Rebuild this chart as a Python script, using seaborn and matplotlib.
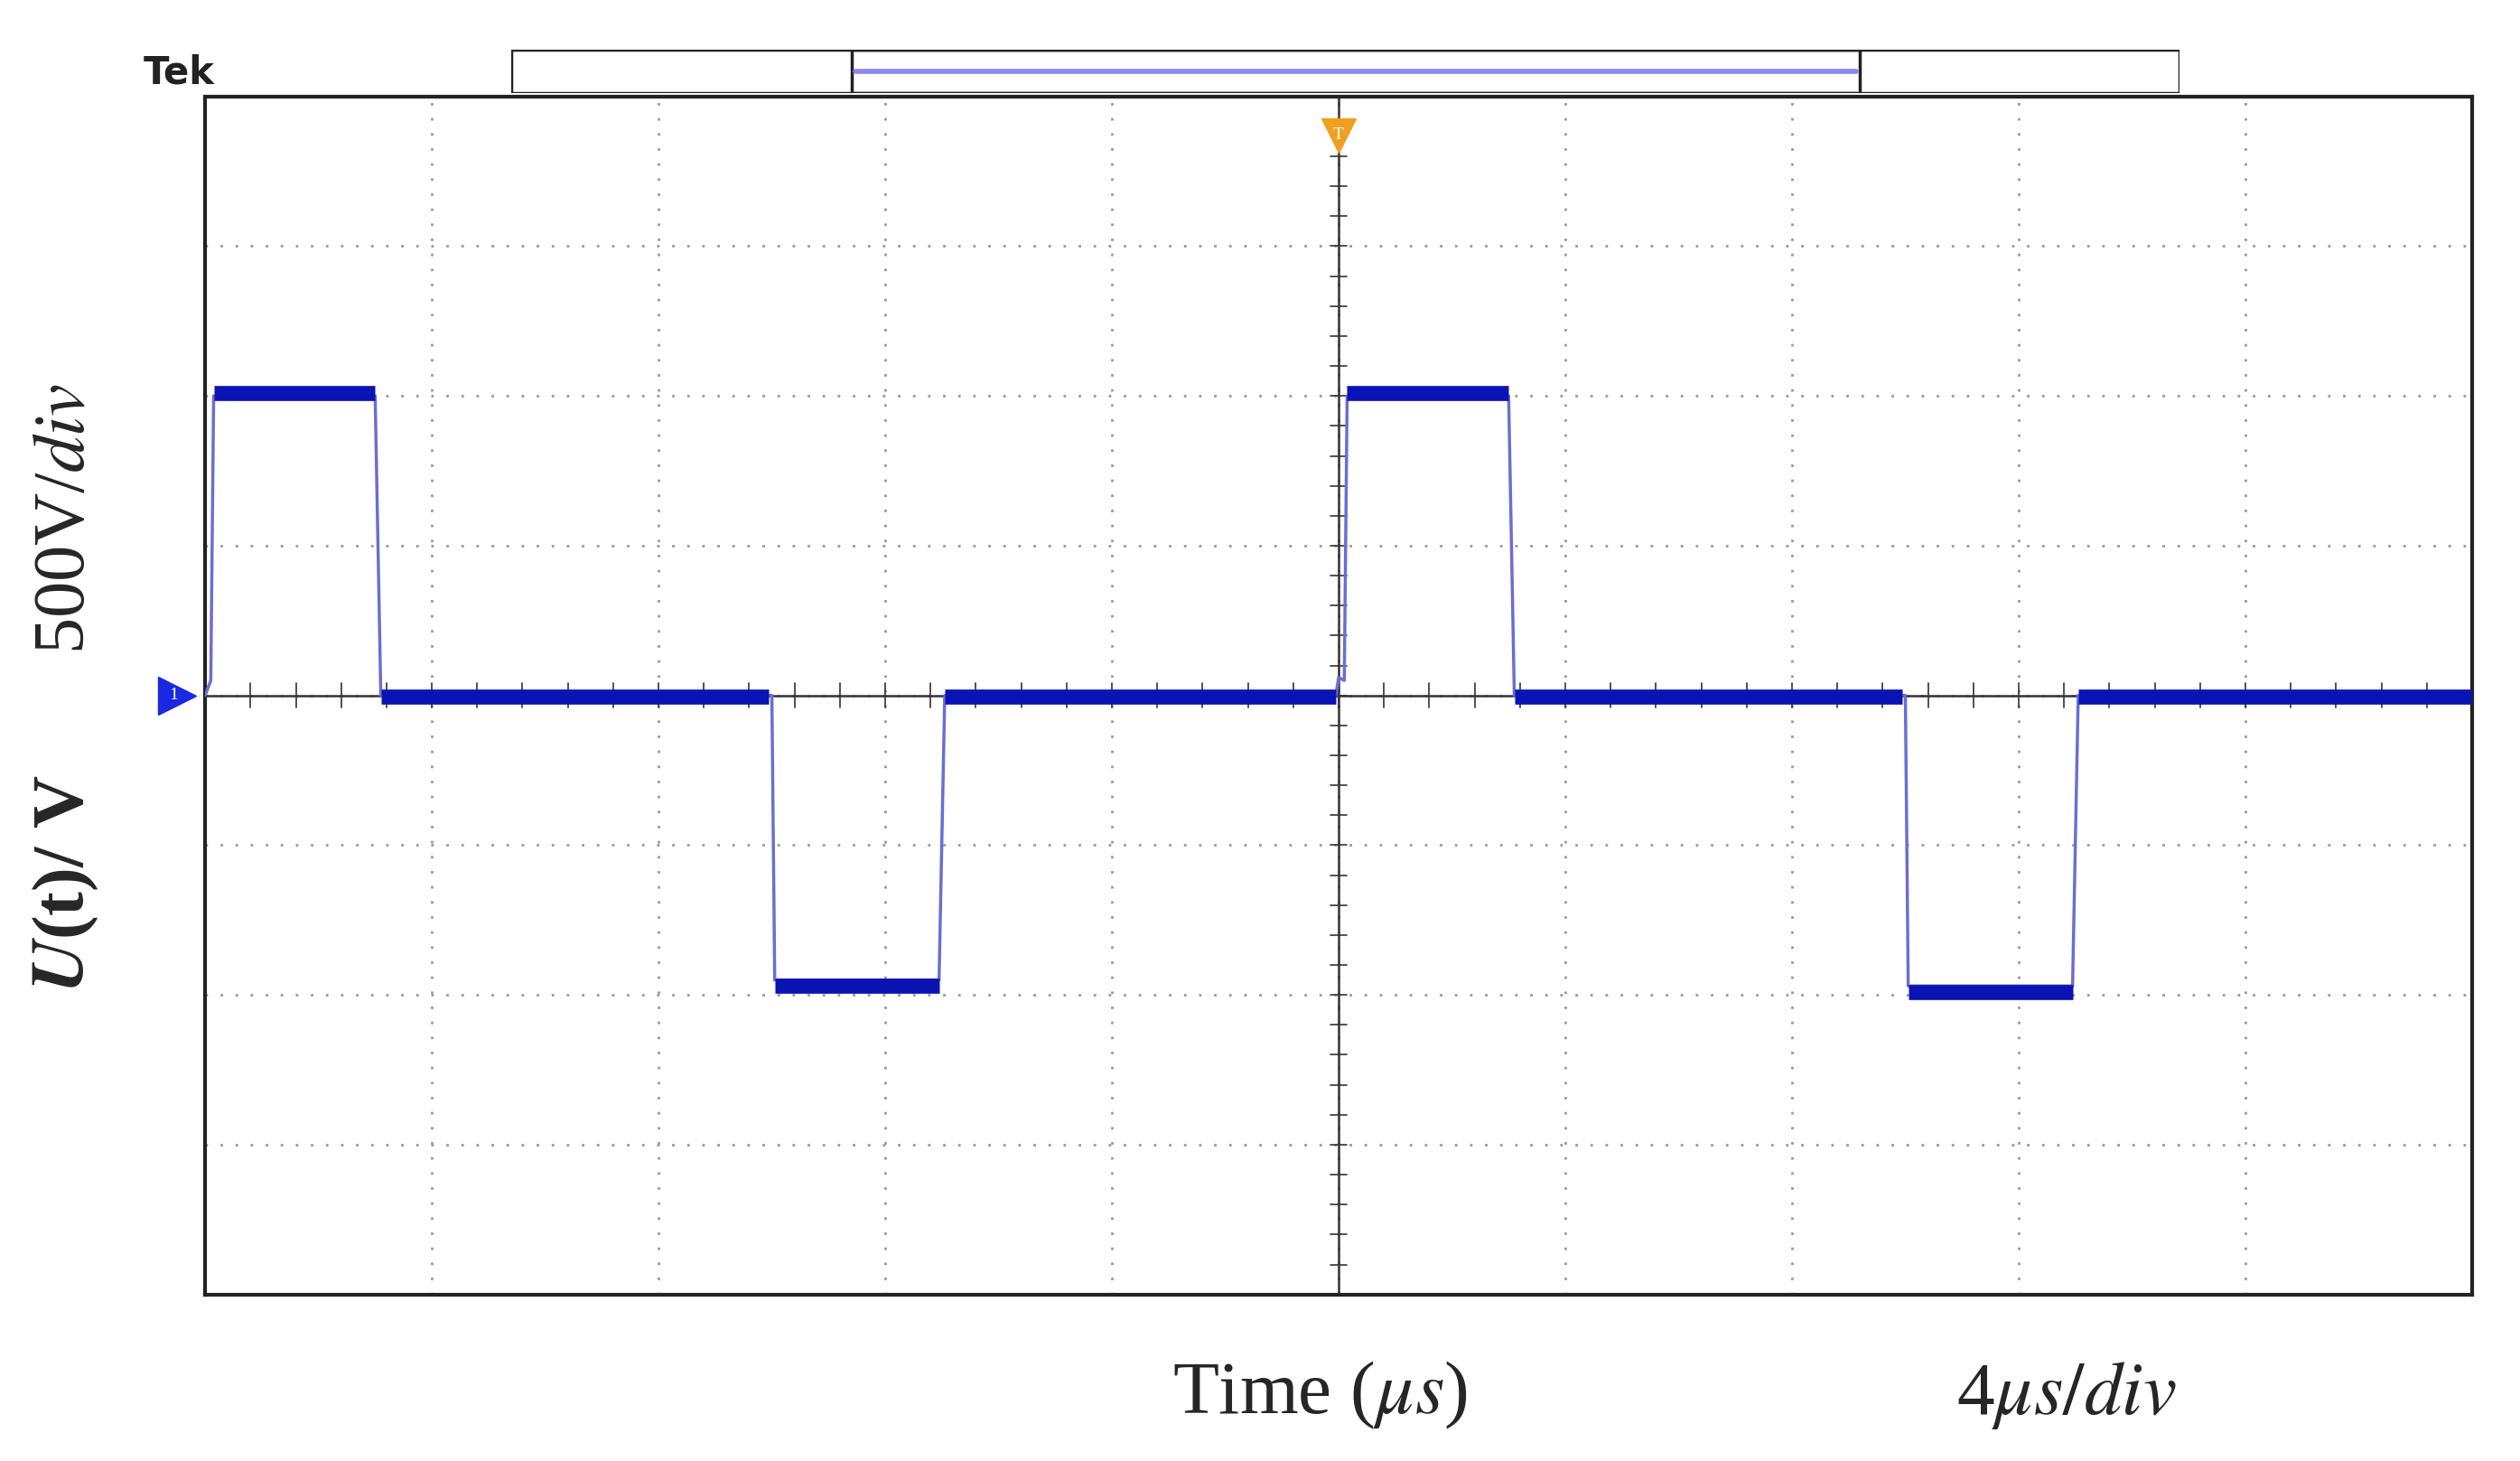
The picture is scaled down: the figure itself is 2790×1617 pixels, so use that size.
import matplotlib
matplotlib.use('Agg')
import matplotlib.pyplot as plt
import seaborn as sns
import numpy as np
import pandas as pd

sns.set_style('white')
plt.rcParams['font.family'] = ['Liberation Serif', 'DejaVu Serif']
plt.rcParams['mathtext.fontset'] = 'stix'

# waveform corners (time in us, voltage in V)
t_pts = [0.0, 0.1, 0.15, 3.0, 3.1, 9.95, 10.0, 10.05, 12.95, 13.05, 19.95, 20.0,
         20.1, 20.15, 23.0, 23.1, 29.95, 30.0, 30.05, 32.95, 33.05, 40.0]
v_pts = [0, 50, 1000, 1000, 0, 0, 0, -950, -950, 0, 0, 60,
         50, 1000, 1000, 0, 0, 0, -970, -970, 0, 0]
# flat (thick) segments: start, end, level
flat_t0 = [0.15, 3.1, 13.05, 20.15, 23.1, 33.05, 10.05, 30.05]
flat_t1 = [3.0, 9.95, 19.95, 23.0, 29.95, 40.0, 12.95, 32.95]
flat_v = [1010, -5, -5, 1010, -5, -5, -970, -990]

fig = plt.figure(figsize=(27.9, 16.17), dpi=100)
ax = fig.add_axes([0.0814, 0.114, 0.8996, 0.82])
ax.set_xlim(0, 40)
ax.set_ylim(-2000, 2000)

# dotted graticule
for x in np.arange(4, 40, 4):
    ax.axvline(x, color='#999999', lw=2, ls=(0, (1, 5)), zorder=0)
for y in np.arange(-1500, 2000, 500):
    ax.axhline(y, color='#999999', lw=2, ls=(0, (1, 5)), zorder=0)
ax.axvline(20, color='#333333', lw=1.8, zorder=1)
ax.axhline(0, color='#333333', lw=1.8, zorder=1)
for x in np.arange(0, 40, 0.8):
    ax.plot([x, x], [-40, 40], color='#333333', lw=1.2)
for y in np.arange(-2000, 2000, 100):
    ax.plot([19.85, 20.15], [y, y], color='#333333', lw=1.2)

df = pd.DataFrame({'t': t_pts, 'v': v_pts})
sns.lineplot(data=df, x='t', y='v', ax=ax, color='#6a6fd0', lw=2.5, sort=False, zorder=3)
for a, b, v in zip(flat_t0, flat_t1, flat_v):
    sns.lineplot(x=[a, b], y=[v, v], ax=ax, color='#0a14b4', lw=12, zorder=4,
                 solid_capstyle='butt')

for s in ax.spines.values():
    s.set_color('#222222')
    s.set_linewidth(3)
ax.set_xticks([])
ax.set_yticks([])
ax.set_xlabel('')
ax.set_ylabel('')

# channel marker
ax.plot([-0.5], [0], marker='>', color='#1a28e0', ms=30, clip_on=False)
ax.text(-0.55, 0, '1', color='white', fontsize=14, ha='center', va='center', clip_on=False)

# top bar
fig.text(0.057, 0.95, 'Tek', fontsize=30, fontweight='bold', family='DejaVu Sans', color='#222222', va='center')
bar = fig.add_axes([0.203, 0.936, 0.662, 0.03])
bar.set_xlim(0, 1)
bar.set_ylim(0, 1)
bar.axis('off')
bar.add_patch(plt.Rectangle((0, 0), 1, 1, fill=False, lw=2.5, ec='#222222'))
bar.add_patch(plt.Rectangle((0.204, 0), 0.604, 1, fill=False, lw=2.5, ec='#222222'))
bar.plot([0.206, 0.806], [0.5, 0.5], color='#8888ee', lw=4)
ax.plot([20], [1870], marker='v', color='#f0a020', ms=28, clip_on=False)
ax.text(20, 1870, 'T', color='white', fontsize=14, ha='center', va='center')

fig.text(0.026, 0.645, r'500V/$div$', fontsize=58, rotation=90, ha='center', va='center')
fig.text(0.026, 0.395, r'$\boldsymbol{U}$(t)/ V', fontsize=58, fontweight='bold', rotation=90, ha='center', va='center')
fig.text(0.524, 0.045, r'Time ($\mu s$)', fontsize=60, ha='center', va='center')
fig.text(0.82, 0.045, r'4$\mu s/div$', fontsize=60, ha='center', va='center')

fig.savefig('out.png', dpi=100)
